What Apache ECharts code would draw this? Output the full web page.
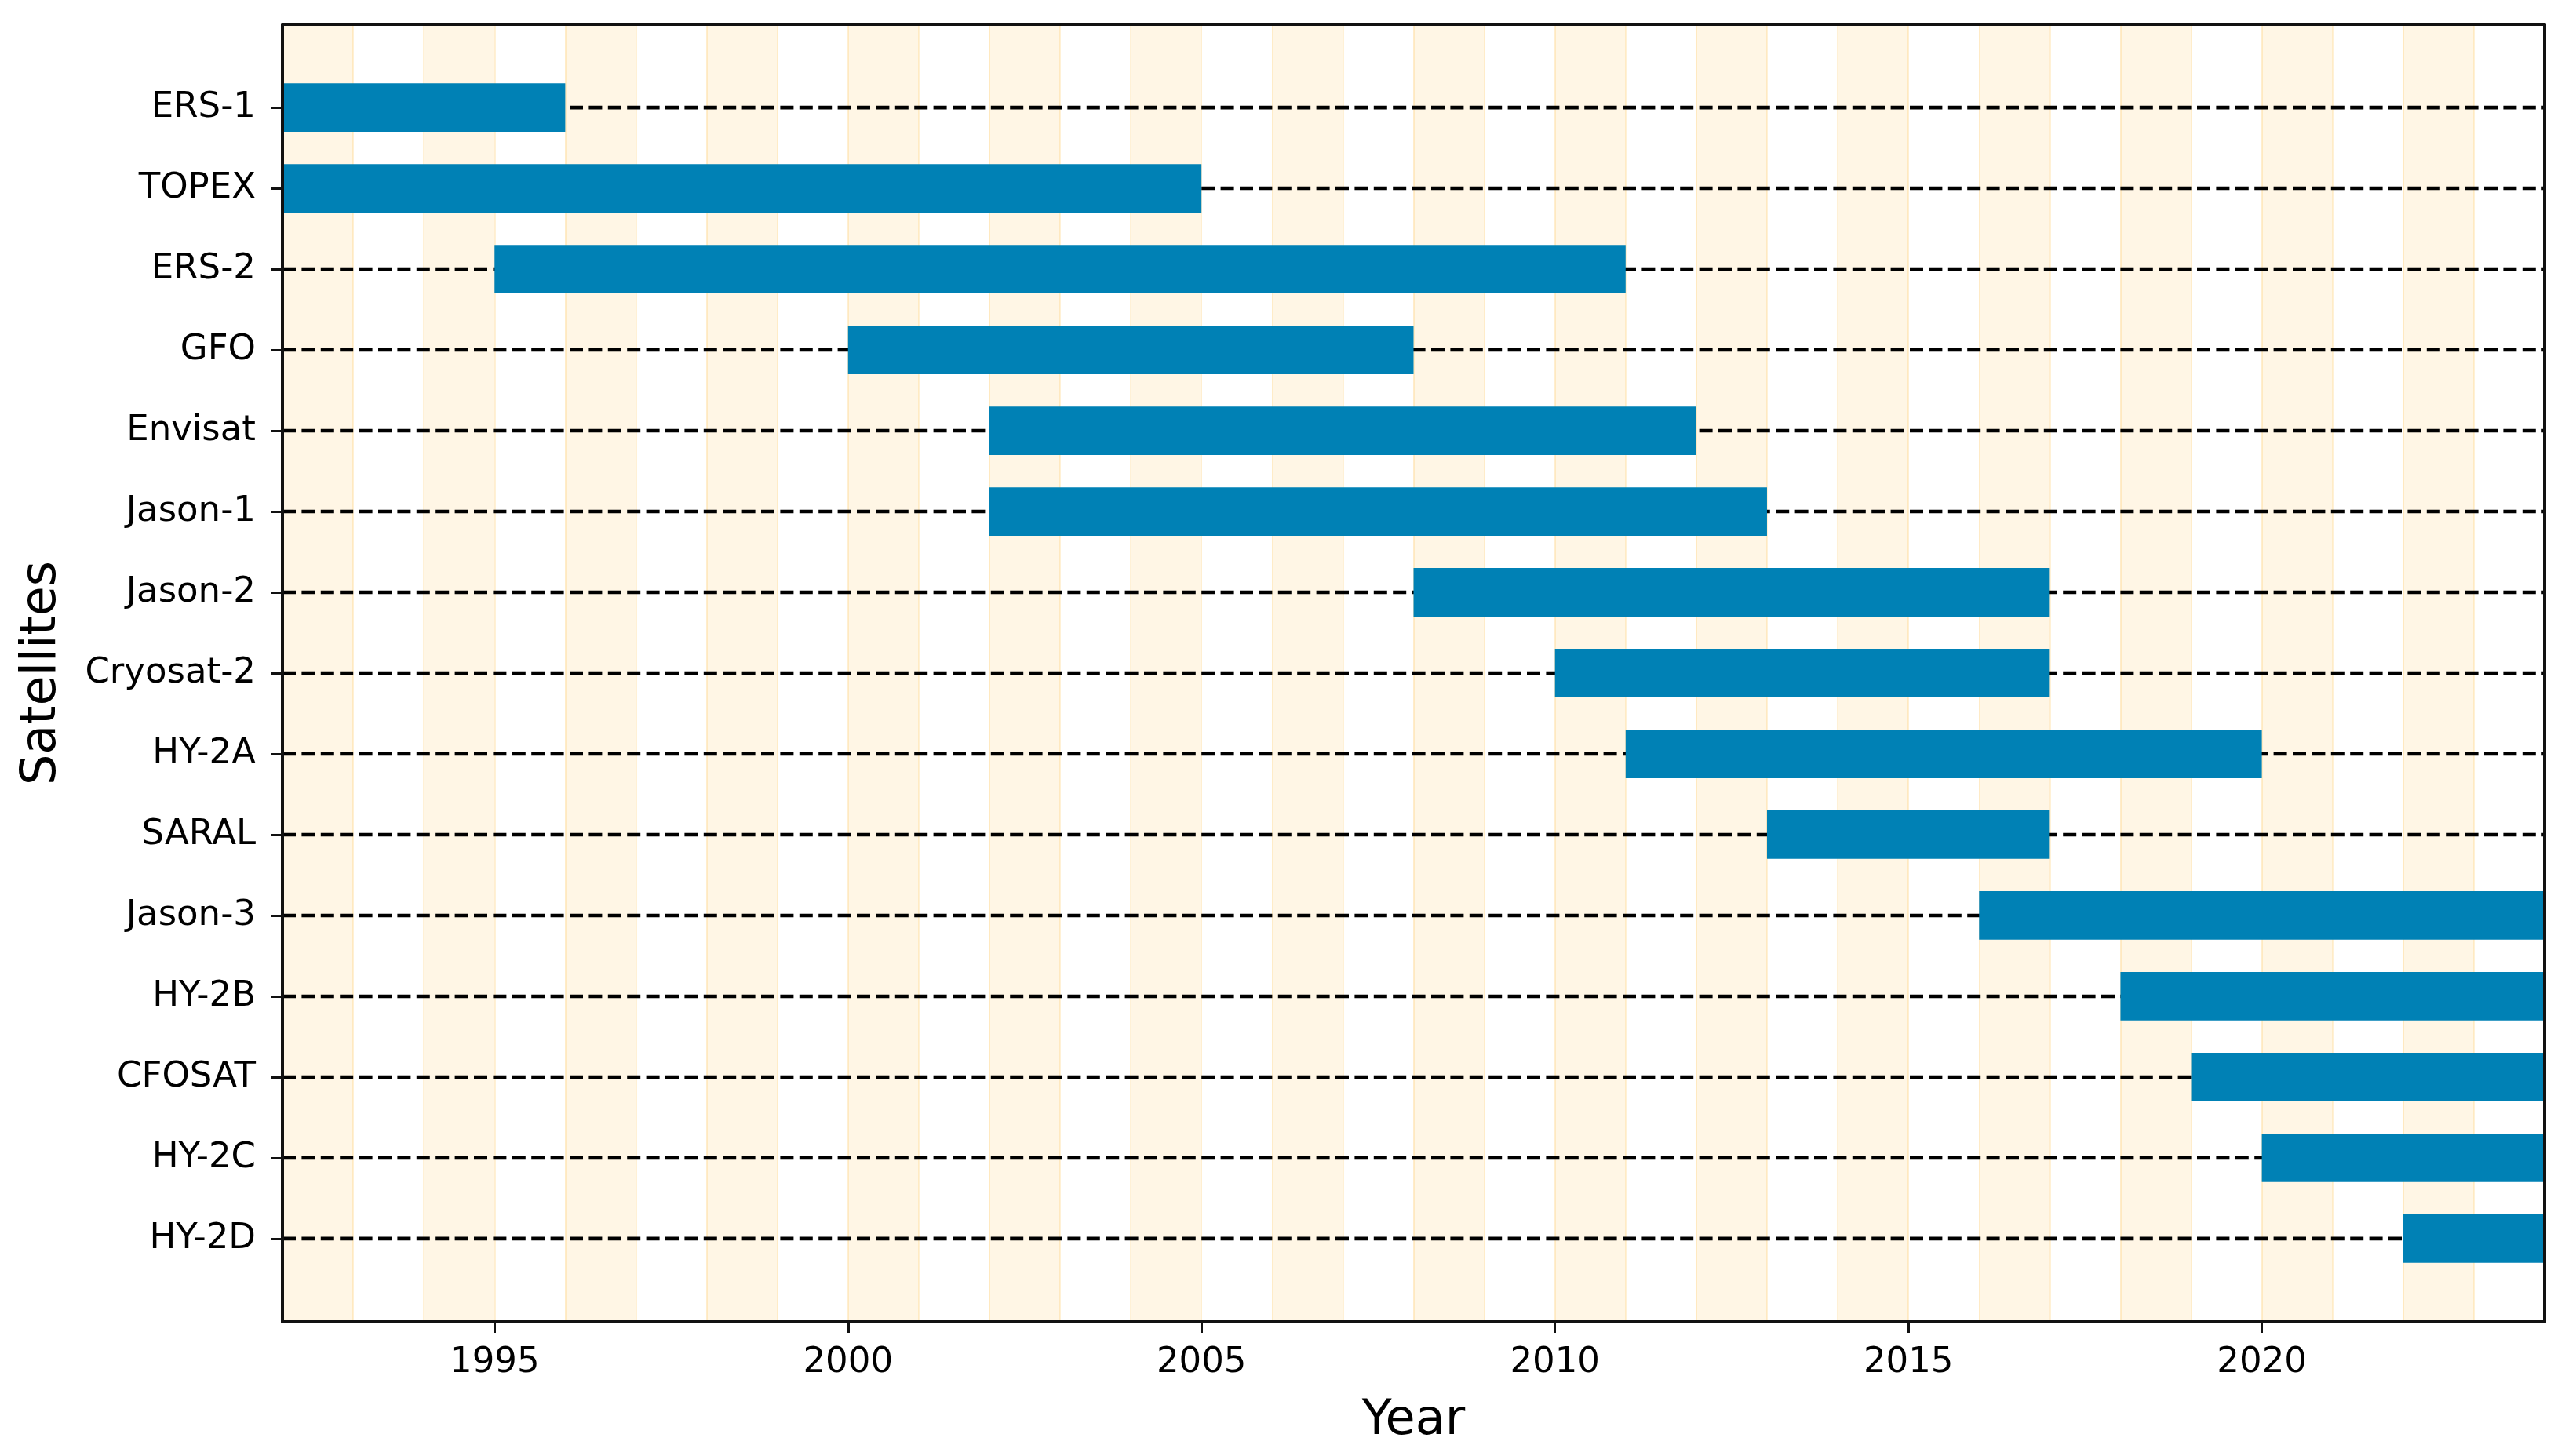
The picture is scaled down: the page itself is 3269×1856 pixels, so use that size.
<!DOCTYPE html>
<html>
<head>
<meta charset="utf-8">
<script src="https://cdn.jsdelivr.net/npm/echarts@6/dist/echarts.min.js"></script>
<style>
html,body{margin:0;padding:0;background:#fff;}
#chart{width:3269px;height:1856px;}
</style>
</head>
<body>
<div id="chart"></div>
<script>
const satellites = ['ERS-1','TOPEX','ERS-2','GFO','Envisat','Jason-1','Jason-2','Cryosat-2','HY-2A','SARAL','Jason-3','HY-2B','CFOSAT','HY-2C','HY-2D'];
const startYears = [1992,1992,1995,2000,2002,2002,2008,2010,2011,2013,2016,2018,2019,2020,2022];
const endYears   = [1996,2005,2011,2008,2012,2013,2017,2017,2020,2017,2024,2024,2024,2024,2024];
const yearTicks = [1995,2000,2005,2010,2015,2020];
const yearMin = 1992, yearMax = 2024;
const satIndex = satellites.map((s,i)=>i);
const yMin = -1.03, yMax = 15.03;

const FONT = 'DejaVu Sans';
const FRAME = '#111';

const chart = echarts.init(document.getElementById('chart'));
const option = {
  animation: false,
  backgroundColor: '#fff',
  grid: {left: 360, right: 26, top: 31, bottom: 171},
  xAxis: [
    {type:'value', min:yearMin, max:yearMax, interval:1, position:'bottom', z:0,
     axisLine:{show:false, onZero:false}, axisTick:{show:false}, axisLabel:{show:false},
     splitLine:{show:true, lineStyle:{color:'rgba(255,165,0,0.16)', width:2}},
     splitArea:{show:true, areaStyle:{color:['rgba(255,165,0,0.1)','rgba(255,255,255,0)']}}},
    {type:'value', min:yearMin, max:yearMax, interval:1, position:'bottom', z:5,
     axisLine:{show:true, onZero:false, lineStyle:{color:FRAME, width:4}},
     axisTick:{show:true, customValues:yearTicks, length:14, lineStyle:{color:FRAME, width:3}},
     axisLabel:{show:true, customValues:yearTicks, formatter:(v)=>String(v),
       fontFamily:FONT, fontSize:45, color:'#000', margin:30},
     splitLine:{show:false}, splitArea:{show:false},
     name:'Year', nameLocation:'middle', nameGap:96,
     nameTextStyle:{fontFamily:FONT, fontSize:62, color:'#000'}},
    {type:'value', min:yearMin, max:yearMax, position:'top', z:5,
     axisLine:{show:true, onZero:false, lineStyle:{color:FRAME, width:4}},
     axisTick:{show:false}, axisLabel:{show:false}, splitLine:{show:false}}
  ],
  yAxis: [
    {type:'value', min:yMin, max:yMax, inverse:true, position:'left', z:5,
     axisLine:{show:true, onZero:false, lineStyle:{color:FRAME, width:4}},
     axisTick:{show:true, customValues:satIndex, length:14, lineStyle:{color:FRAME, width:3}},
     axisLabel:{show:true, customValues:satIndex, formatter:(v)=>satellites[v] || '',
       fontFamily:FONT, fontSize:45, color:'#000', margin:34, padding:[6,0,0,0]},
     splitLine:{show:false},
     name:'Satellites', nameLocation:'middle', nameGap:275, nameRotate:90,
     nameTextStyle:{fontFamily:FONT, fontSize:62, color:'#000'}},
    {type:'value', min:yMin, max:yMax, inverse:true, position:'right', z:5,
     axisLine:{show:true, onZero:false, lineStyle:{color:FRAME, width:4}},
     axisTick:{show:false}, axisLabel:{show:false}, splitLine:{show:false}}
  ],
  series: [
  {
    type:'custom',
    xAxisIndex:0, yAxisIndex:0,
    z:1,
    silent:true,
    data: satIndex.map(i=>[i]),
    encode: {y:0},
    renderItem: function(params, api){
      const i = api.value(0);
      const a = api.coord([yearMin, i]);
      const b = api.coord([yearMax, i]);
      return {type:'line', shape:{x1:a[0], y1:a[1], x2:b[0], y2:b[1]},
              style:{stroke:'#000', lineWidth:4.6, lineDash:[17,7.4], fill:null}};
    }
  },
  {
    type:'custom',
    xAxisIndex:0, yAxisIndex:0,
    z:2,
    data: satellites.map((s,i)=>[i, startYears[i], endYears[i]]),
    encode: {x:[1,2], y:0},
    renderItem: function(params, api){
      const i = api.value(0), s = api.value(1), e = api.value(2);
      const p0 = api.coord([s, i]);
      const p1 = api.coord([e, i]);
      const h = api.size([0, 0.6])[1];
      return {type:'rect', shape:{x:p0[0], y:p0[1]-h/2, width:p1[0]-p0[0], height:h},
              style:{fill:'#0081b5'}};
    }
  }]
};
chart.setOption(option);
</script>
</body>
</html>
